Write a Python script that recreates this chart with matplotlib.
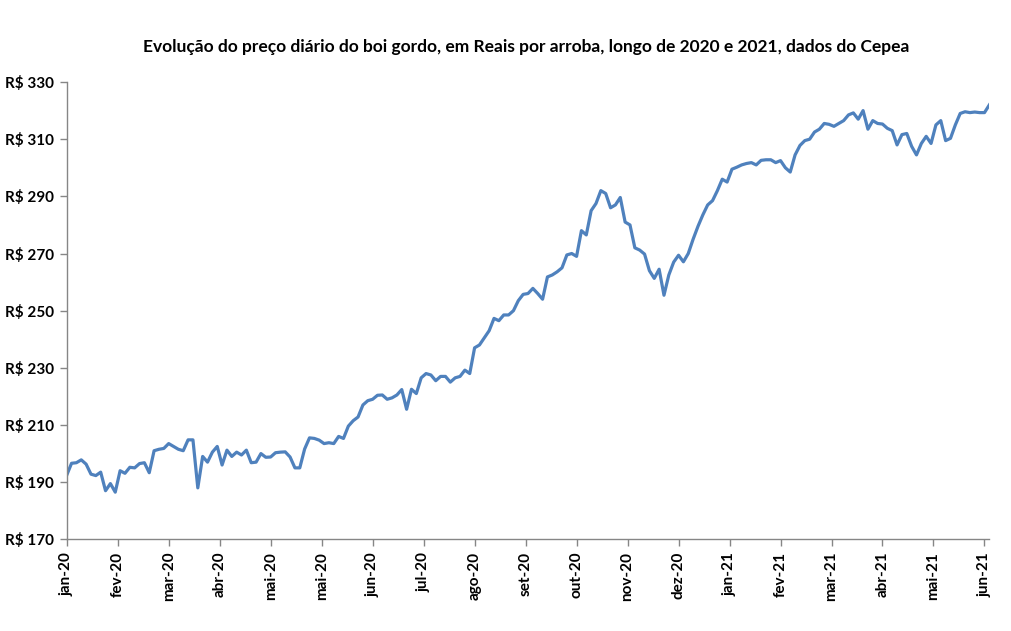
import numpy as np
import matplotlib
matplotlib.use("Agg")
import matplotlib.pyplot as plt

# preço do boi gordo (R$/arroba), uma leitura a cada 2 dias úteis
precos = [
    192.4, 196.6, 196.8, 197.8, 196.3, 192.8, 192.3, 193.5, 187.0, 189.5,
    186.5, 194.0, 193.1, 195.2, 195.0, 196.5, 196.8, 193.3, 201.0, 201.5,
    201.8, 203.5, 202.5, 201.5, 201.0, 204.8, 204.8, 188.0, 199.0, 197.0,
    200.5, 202.5, 196.0, 201.2, 199.0, 200.5, 199.5, 201.2, 196.8, 197.0,
    200.0, 198.7, 198.8, 200.3, 200.5, 200.6, 198.8, 195.0, 195.0, 201.6,
    205.5, 205.3, 204.7, 203.5, 203.8, 203.5, 206.0, 205.3, 209.6, 211.5,
    212.8, 217.0, 218.5, 219.0, 220.4, 220.5, 219.0, 219.5, 220.5, 222.4,
    215.5, 222.5, 221.0, 226.5, 228.0, 227.5, 225.5, 227.0, 227.0, 225.0,
    226.5, 227.0, 229.2, 228.0, 237.0, 238.0, 240.5, 243.0, 247.3, 246.5,
    248.5, 248.5, 250.0, 253.5, 255.7, 256.0, 257.8, 256.0, 254.0, 261.8,
    262.5, 263.6, 265.0, 269.5, 270.0, 269.0, 278.0, 276.5, 285.0, 287.5,
    292.0, 291.0, 286.0, 287.0, 289.6, 281.0, 280.0, 272.0, 271.2, 269.8,
    264.0, 261.3, 264.5, 255.4, 262.5, 267.0, 269.4, 267.1, 270.0, 275.0,
    279.5, 283.5, 287.0, 288.5, 292.0, 296.0, 295.0, 299.5, 300.2, 301.0,
    301.5, 301.8, 301.0, 302.6, 302.8, 302.8, 301.8, 302.5, 300.0, 298.5,
    304.5, 307.8, 309.5, 310.0, 312.5, 313.5, 315.5, 315.2, 314.5, 315.5,
    316.5, 318.5, 319.2, 317.0, 320.0, 313.5, 316.5, 315.5, 315.3, 313.8,
    313.0, 308.0, 311.6, 312.0, 307.5, 304.5, 308.5, 311.0, 308.5, 315.0,
    316.5, 309.5, 310.3, 315.0, 319.0, 319.6, 319.3, 319.5, 319.3, 319.3,
    322.0,
]
passo = 2  # dias úteis entre leituras

rotulos = ["jan-20", "fev-20", "mar-20", "abr-20", "mai-20", "mai-20",
           "jun-20", "jul-20", "ago-20", "set-20", "out-20", "nov-20",
           "dez-20", "jan-21", "fev-21", "mar-21", "abr-21", "mai-21",
           "jun-21"]
intervalo_rotulos = 21  # um rótulo a cada 21 dias úteis

y_ticks = [170, 190, 210, 230, 250, 270, 290, 310, 330]

plt.rcParams['font.family'] = ['Lato', 'DejaVu Sans']

fig = plt.figure(figsize=(10.12, 6.31), dpi=100)
ax = fig.add_axes([0.0659, 0.1453, 0.9117, 0.7247])

x = np.arange(len(precos)) * passo
ax.plot(x, precos, color="#4F81BD", linewidth=2.3, solid_joinstyle="round")

ax.set_xlim(0, (len(precos) - 1) * passo)
ax.set_ylim(170, 330)

ax.set_yticks(y_ticks)
ax.set_yticklabels(["R$ %d" % v for v in y_ticks], fontsize=11, fontweight="bold")
ax.set_xticks(np.arange(len(rotulos)) * intervalo_rotulos)
ax.set_xticklabels(rotulos, rotation=90, fontsize=11, fontweight="bold")

for s in ["top", "right"]:
    ax.spines[s].set_visible(False)
for s in ["left", "bottom"]:
    ax.spines[s].set_color("#868686")
    ax.spines[s].set_linewidth(1.0)
ax.tick_params(axis="both", color="#868686", length=5, width=1, direction="out")
ax.tick_params(axis="y", pad=4)
ax.tick_params(axis="x", pad=4)

fig.text(0.5195, 0.925,
         "Evolução do preço diário do boi gordo, em Reais por arroba, longo de 2020 e 2021, dados do Cepea",
         ha="center", va="center", fontsize=12.5, fontweight="bold")

fig.savefig("out.png", dpi=100)
